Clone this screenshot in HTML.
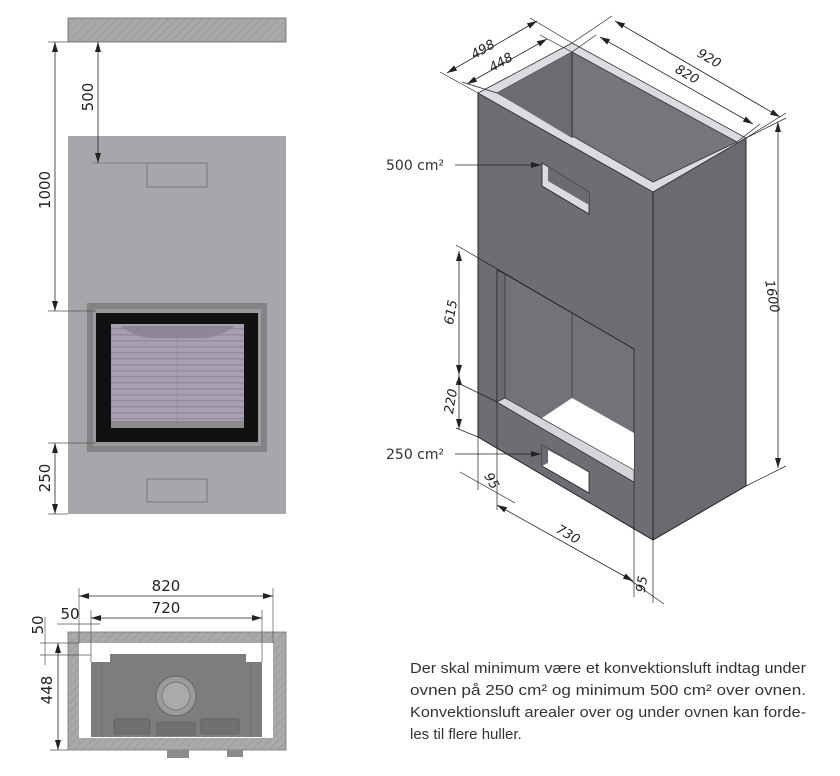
<!DOCTYPE html>
<html><head><meta charset="utf-8"><style>
html,body{margin:0;padding:0;background:#fff;}
svg{display:block;font-family:"DejaVu Sans","Liberation Sans",sans-serif;}
</style></head><body>
<svg width="840" height="776" viewBox="0 0 840 776" xmlns="http://www.w3.org/2000/svg">
<defs>
<pattern id="h" width="6" height="6" patternUnits="userSpaceOnUse" patternTransform="rotate(45)">
<rect width="6" height="6" fill="#a9a9ab"/><line x1="0" y1="0" x2="0" y2="6" stroke="#8f8f91" stroke-width="1"/>
</pattern>
<pattern id="g" width="10" height="6" patternUnits="userSpaceOnUse">
<rect width="10" height="6" fill="#a7a0b1"/><rect y="4" width="10" height="1.5" fill="#948da0"/>
</pattern>
<marker id="a" viewBox="0 0 10 6" refX="10" refY="3" markerWidth="10" markerHeight="6" orient="auto-start-reverse" markerUnits="userSpaceOnUse"><path d="M0,0 L10,3 L0,6z" fill="#222"/></marker>
</defs>

<!-- Front view -->
<rect x="68" y="18" width="218" height="24" fill="url(#h)" stroke="#666" stroke-width="0.8"/>
<rect x="68" y="136" width="218" height="378" fill="#a6a7aa"/>
<rect x="147" y="163" width="60" height="24" fill="none" stroke="#6f6f72" stroke-width="0.8"/>
<rect x="147" y="479" width="60" height="23" fill="none" stroke="#6f6f72" stroke-width="0.8"/>
<rect x="87" y="303" width="180" height="149" fill="#838385"/>
<rect x="93" y="309" width="168" height="137" fill="#9a9a9c"/>
<rect x="96" y="313" width="162" height="129" fill="#111"/>
<rect x="111" y="324" width="133" height="104" fill="url(#g)"/>
<path d="M120,326 Q140,340 160,338 L195,338 Q215,340 235,326z" fill="#8c8697"/>
<rect x="111" y="421" width="133" height="7" fill="#8a8a8c"/>
<line x1="177" y1="324" x2="177" y2="421" stroke="#8f88a0" stroke-width="0.6"/>
<line x1="48" y1="42" x2="68" y2="42" stroke="#555" stroke-width="0.7"/>
<line x1="48" y1="311" x2="96" y2="311" stroke="#555" stroke-width="0.7"/>
<line x1="48" y1="443" x2="96" y2="443" stroke="#555" stroke-width="0.7"/>
<line x1="48" y1="514" x2="68" y2="514" stroke="#555" stroke-width="0.7"/>
<line x1="92" y1="163" x2="147" y2="163" stroke="#777" stroke-width="0.7"/>
<line x1="55" y1="42" x2="55" y2="311" stroke="#222" stroke-width="0.8" marker-start="url(#a)" marker-end="url(#a)"/>
<line x1="98" y1="42" x2="98" y2="163" stroke="#222" stroke-width="0.8" marker-start="url(#a)" marker-end="url(#a)"/>
<line x1="55" y1="443" x2="55" y2="514" stroke="#222" stroke-width="0.8" marker-start="url(#a)" marker-end="url(#a)"/>
<text transform="translate(50,190) rotate(-90)" font-size="15" text-anchor="middle" fill="#222">1000</text>
<text transform="translate(93,97) rotate(-90)" font-size="15" text-anchor="middle" fill="#222">500</text>
<text transform="translate(50,478) rotate(-90)" font-size="15" text-anchor="middle" fill="#222">250</text>

<!-- Plan view -->
<rect x="68" y="632" width="218" height="118" fill="url(#h)" stroke="#777" stroke-width="0.8"/>
<rect x="79" y="643" width="194" height="95" fill="#fff"/>
<path d="M91,662 L110,662 L110,654 L246,654 L246,662 L262,662 L262,737 L91,737z" fill="#7d7d80"/>
<line x1="102" y1="662" x2="102" y2="737" stroke="#666" stroke-width="0.6"/>
<line x1="251" y1="662" x2="251" y2="737" stroke="#666" stroke-width="0.6"/>
<circle cx="176" cy="696" r="20" fill="#9c9c9e" stroke="#666" stroke-width="1"/>
<circle cx="176" cy="696" r="14" fill="#aaa" stroke="#777" stroke-width="1"/>
<rect x="114" y="719" width="36" height="15" rx="2" fill="#707073" stroke="#555" stroke-width="0.6"/>
<rect x="157" y="722" width="38" height="13" rx="2" fill="#707073" stroke="#555" stroke-width="0.6"/>
<rect x="201" y="719" width="38" height="15" rx="2" fill="#707073" stroke="#555" stroke-width="0.6"/>
<rect x="167" y="750" width="22" height="8" fill="#8a8a8c"/>
<rect x="227" y="750" width="16" height="7" fill="#8a8a8c"/>
<line x1="79" y1="588" x2="79" y2="643" stroke="#555" stroke-width="0.7"/>
<line x1="273" y1="588" x2="273" y2="643" stroke="#555" stroke-width="0.7"/>
<line x1="91" y1="610" x2="91" y2="662" stroke="#555" stroke-width="0.7"/>
<line x1="262" y1="610" x2="262" y2="662" stroke="#555" stroke-width="0.7"/>
<line x1="79" y1="596" x2="273" y2="596" stroke="#222" stroke-width="0.8" marker-start="url(#a)" marker-end="url(#a)"/>
<line x1="91" y1="618" x2="262" y2="618" stroke="#222" stroke-width="0.8" marker-start="url(#a)" marker-end="url(#a)"/>
<line x1="57" y1="624" x2="100" y2="624" stroke="#555" stroke-width="0.7"/>
<text x="166" y="591" font-size="15" text-anchor="middle" fill="#222">820</text>
<text x="166" y="613" font-size="15" text-anchor="middle" fill="#222">720</text>
<text x="70" y="619" font-size="15" text-anchor="middle" fill="#222">50</text>
<line x1="40" y1="643" x2="79" y2="643" stroke="#555" stroke-width="0.7"/>
<line x1="40" y1="655" x2="91" y2="655" stroke="#555" stroke-width="0.7"/>
<line x1="45" y1="617" x2="45" y2="665" stroke="#555" stroke-width="0.7"/>
<line x1="58" y1="643" x2="58" y2="750" stroke="#222" stroke-width="0.8" marker-start="url(#a)" marker-end="url(#a)"/>
<line x1="50" y1="750" x2="68" y2="750" stroke="#555" stroke-width="0.7"/>
<text transform="translate(43,625) rotate(-90)" font-size="15" text-anchor="middle" fill="#222">50</text>
<text transform="translate(52,690) rotate(-90)" font-size="15" text-anchor="middle" fill="#222">448</text>

<!-- Isometric -->
<polygon points="478,93 653,192 653,540 478,437" fill="#6d6d74" stroke="#222" stroke-width="1"/>
<polygon points="653,192 746,138 746,486 653,540" fill="#6a6a71" stroke="#222" stroke-width="1"/>
<polygon points="478,93 572,43 746,138 653,192" fill="#dcdce0" stroke="#333" stroke-width="0.8"/>
<polygon points="497,93 572,52 737,142 653,182" fill="#75757c" stroke="#333" stroke-width="0.8"/>
<polygon points="497,93 572,52 572,138" fill="#6b6b72"/>
<line x1="572" y1="52" x2="572" y2="138" stroke="#222" stroke-width="0.8"/>
<!-- top vent -->
<polygon points="542,163 589,192 589,214 542,186" fill="#dcdce0" stroke="#222" stroke-width="0.8"/>
<polygon points="542,163 589,192 589,205 548,181 548,167" fill="#6a6a71"/>
<!-- fire opening -->
<polygon points="497,270 505,274 634,349 634,482 497,402" fill="#727279" stroke="#222" stroke-width="0.8"/>
<polygon points="497,270 505,274 505,398 497,402" fill="#6a6a71" stroke="#222" stroke-width="0.6"/>
<line x1="572" y1="313" x2="572" y2="398" stroke="#333" stroke-width="0.7"/>
<polygon points="542,418 572,398 634,433 634,470" fill="#fff"/>
<polygon points="497,402 505,398 634,470 634,482" fill="#d6d6da" stroke="#222" stroke-width="0.6"/>
<!-- lower vent -->
<polygon points="542,445 589,472 589,493 542,466" fill="#fff" stroke="#222" stroke-width="0.8"/>
<polygon points="542,445 589,472 548,450 548,463 542,466" fill="#6a6a71"/>
<!-- dims -->
<g stroke="#222" stroke-width="0.7" fill="none">
<line x1="478" y1="93" x2="440" y2="72"/><line x1="572" y1="43" x2="530" y2="18"/>
<line x1="497" y1="93" x2="462" y2="82"/><line x1="572" y1="52" x2="540" y2="35"/>
<line x1="572" y1="43" x2="612" y2="16"/><line x1="746" y1="138" x2="786" y2="113"/>
<line x1="737" y1="142" x2="760" y2="124"/><line x1="572" y1="52" x2="596" y2="35"/>
<line x1="746" y1="138" x2="786" y2="118"/><line x1="746" y1="486" x2="786" y2="466"/>
<line x1="456" y1="245" x2="634" y2="349"/><line x1="456" y1="382" x2="497" y2="402"/>
<line x1="456" y1="428" x2="478" y2="437"/>
<line x1="478" y1="437" x2="478" y2="490"/><line x1="497" y1="402" x2="497" y2="510"/>
<line x1="634" y1="482" x2="634" y2="597"/><line x1="653" y1="540" x2="653" y2="603"/>
<line x1="460" y1="472" x2="515" y2="503"/><line x1="623" y1="575" x2="664" y2="604"/>
</g>
<g stroke="#222" stroke-width="0.8">
<line x1="447" y1="73" x2="537" y2="21" marker-start="url(#a)" marker-end="url(#a)"/>
<line x1="467" y1="84" x2="547" y2="39" marker-start="url(#a)" marker-end="url(#a)"/>
<line x1="615" y1="21" x2="780" y2="117" marker-start="url(#a)" marker-end="url(#a)"/>
<line x1="600" y1="37" x2="753" y2="124" marker-start="url(#a)" marker-end="url(#a)"/>
<line x1="778" y1="122" x2="778" y2="468" marker-start="url(#a)" marker-end="url(#a)"/>
<line x1="459" y1="251" x2="459" y2="375" marker-start="url(#a)" marker-end="url(#a)"/>
<line x1="459" y1="375" x2="459" y2="429" marker-start="url(#a)" marker-end="url(#a)"/>
<line x1="497" y1="505" x2="633" y2="581" marker-start="url(#a)" marker-end="url(#a)"/>
<line x1="455" y1="165" x2="541" y2="165" marker-end="url(#a)"/>
<line x1="455" y1="454" x2="541" y2="454" marker-end="url(#a)"/>
</g>
<g font-size="13" fill="#222" text-anchor="middle" font-style="italic">
<text transform="translate(485,53) rotate(-30)">498</text>
<text transform="translate(503,66) rotate(-30)">448</text>
<text transform="translate(707,62) rotate(30)">920</text>
<text transform="translate(685,78) rotate(30)">820</text>
<text transform="translate(768,297) rotate(80)">1600</text>
<text transform="translate(455,313) rotate(-80)">615</text>
<text transform="translate(455,402) rotate(-80)">220</text>
<text transform="translate(488,483) rotate(60)">95</text>
<text transform="translate(566,538) rotate(30)">730</text>
<text transform="translate(646,585) rotate(-80)">95</text>
</g>
<text x="386" y="170" font-size="14" fill="#333">500 cm²</text>
<text x="386" y="459" font-size="14" fill="#333">250 cm²</text>

<g fill="#333" font-family="Liberation Sans, sans-serif">
<text x="410" y="673" font-size="15" textLength="396" lengthAdjust="spacingAndGlyphs">Der skal minimum være et konvektionsluft indtag under</text>
<text x="410" y="695" font-size="15" textLength="396" lengthAdjust="spacingAndGlyphs">ovnen på 250 cm² og minimum 500 cm² over ovnen.</text>
<text x="410" y="717" font-size="15" textLength="396" lengthAdjust="spacingAndGlyphs">Konvektionsluft arealer over og under ovnen kan forde-</text>
<text x="410" y="739" font-size="15">les til flere huller.</text>
</g>
</svg>
</body></html>
